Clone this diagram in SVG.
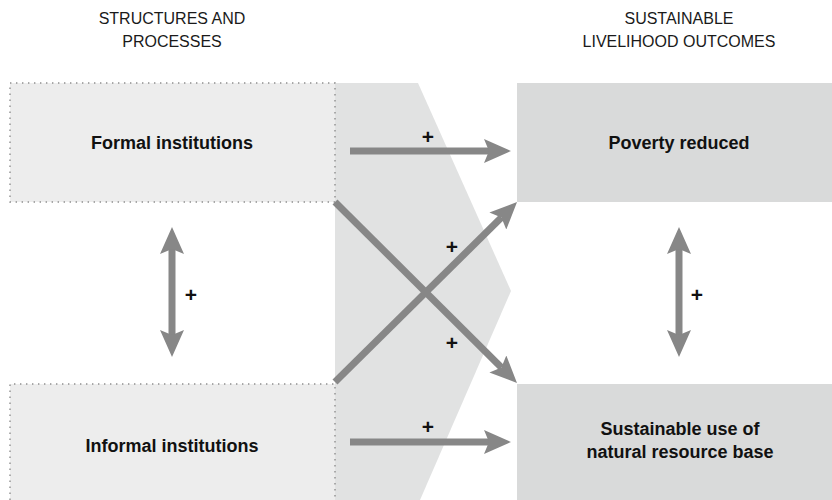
<svg xmlns="http://www.w3.org/2000/svg" width="832" height="500" viewBox="0 0 832 500">
<defs>
<style>
.hdr{font-family:"Liberation Sans",Arial,sans-serif;font-size:16px;fill:#1a1a1a;text-anchor:middle}
.lbl{font-family:"Liberation Sans",Arial,sans-serif;font-size:18px;font-weight:bold;fill:#111;text-anchor:middle}
.plus{font-family:"Liberation Sans",Arial,sans-serif;font-size:21px;font-weight:bold;fill:#111;text-anchor:middle}
.inbox{fill:#ededed}
.dot{fill:none;stroke:#8f8f8f;stroke-width:1.4;stroke-dasharray:1.4 4.6}
.outbox{fill:#d9dada}
.conn{stroke:#878787;stroke-width:7;fill:none;marker-end:url(#head)}
.dbl{marker-start:url(#head)}
</style>
<marker id="head" viewBox="0 0 27 24" refX="5" refY="12" markerWidth="27" markerHeight="24" markerUnits="userSpaceOnUse" orient="auto-start-reverse">
<path d="M0,0 L27,12 L0,24 L5,12 Z" fill="#878787"/>
</marker>
</defs>
<rect width="832" height="500" fill="#ffffff"/>
<polygon points="335,83 418,83 511,291 420,500 335,500" fill="#e1e2e2"/>
<text class="hdr" x="172" y="24">STRUCTURES AND</text>
<text class="hdr" x="172" y="47">PROCESSES</text>
<text class="hdr" x="679" y="24">SUSTAINABLE</text>
<text class="hdr" x="679" y="47">LIVELIHOOD OUTCOMES</text>
<g id="formal">
<rect class="inbox" x="10" y="83" width="325" height="119"/>
<rect class="dot" x="10" y="83" width="325" height="119"/>
<text class="lbl" x="172" y="149">Formal institutions</text>
</g>
<g id="informal">
<rect class="inbox" x="10" y="384" width="325" height="116"/>
<path class="dot" d="M10,500 V384 H335 V500"/>
<text class="lbl" x="172" y="452">Informal institutions</text>
</g>
<g id="poverty">
<rect class="outbox" x="517" y="83" width="315" height="119"/>
<text class="lbl" x="679" y="149">Poverty reduced</text>
</g>
<g id="sustainable">
<rect class="outbox" x="517" y="384" width="315" height="116"/>
<text class="lbl" x="680" y="435">Sustainable use of</text>
<text class="lbl" x="680" y="458">natural resource base</text>
</g>
<g id="connectors">
<line class="conn" x1="350" y1="151" x2="489" y2="151"/>
<line class="conn" x1="350" y1="442" x2="489" y2="442"/>
<line class="conn" x1="335" y1="202" x2="501.4" y2="367.5"/>
<line class="conn" x1="335" y1="382" x2="501.4" y2="217.5"/>
<line class="conn dbl" x1="172" y1="249" x2="172" y2="335"/>
<line class="conn dbl" x1="679" y1="249" x2="679" y2="335"/>
<text class="plus" x="428" y="144">+</text>
<text class="plus" x="428" y="434">+</text>
<text class="plus" x="452" y="254">+</text>
<text class="plus" x="452" y="350">+</text>
<text class="plus" x="191" y="302">+</text>
<text class="plus" x="697" y="302">+</text>
</g>
</svg>
